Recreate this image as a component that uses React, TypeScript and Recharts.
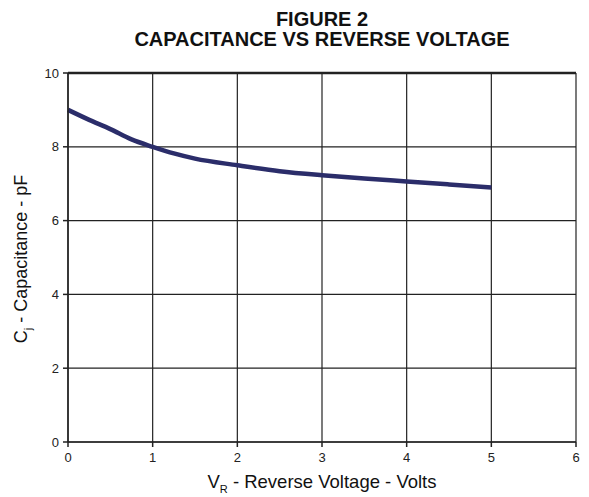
import { LineChart, Line, XAxis, YAxis, CartesianGrid, ReferenceLine, Customized } from 'recharts'

const voltage = [0, 0.25, 0.5, 0.75, 1, 1.25, 1.5, 2, 2.5, 3, 3.5, 4, 4.5, 5]
const capacitance = [9.0, 8.73, 8.48, 8.2, 8.0, 7.82, 7.68, 7.5, 7.34, 7.23, 7.14, 7.06, 6.98, 6.9]
const xTicks = [0, 1, 2, 3, 4, 5, 6]
const yTicks = [0, 2, 4, 6, 8, 10]

const data = voltage.map((v, i) => ({ v, c: capacitance[i] }))

const FONT = '"Liberation Sans", Arial, Helvetica, sans-serif'

export default function App() {
  const Labels = () => (
    <g fontFamily={FONT} fill='#111'>
      <text x={314} y={18} textAnchor='middle' fontSize={20} fontWeight='bold'>
        FIGURE 2
      </text>
      <text x={314} y={38} textAnchor='middle' fontSize={20} fontWeight='bold'>
        CAPACITANCE VS REVERSE VOLTAGE
      </text>
      <text x={314} y={480} textAnchor='middle' fontSize={18.5}>
        V<tspan fontSize={11} dy={5}>R</tspan>
        <tspan dy={-5}> - Reverse Voltage - Volts</tspan>
      </text>
      <text
        transform='translate(19,251) rotate(-90)'
        textAnchor='middle'
        fontSize={18}
      >
        C<tspan fontSize={11} dy={5}>j</tspan>
        <tspan dy={-5}> - Capacitance - pF</tspan>
      </text>
    </g>
  )

  return (
    <LineChart
      width={573}
      height={489}
      data={data}
      margin={{ top: 65, right: 5, bottom: 0, left: 0 }}
    >
      <CartesianGrid stroke='#222' strokeWidth={1.2} vertical horizontal />
      <XAxis
        dataKey='v'
        type='number'
        domain={[0, 6]}
        ticks={xTicks}
        height={55}
        tickSize={5}
        stroke='#222'
        strokeWidth={1.5}
        tick={{ fill: '#222', fontSize: 13, fontFamily: FONT, dy: 4 }}
      />
      <YAxis
        type='number'
        domain={[0, 10]}
        ticks={yTicks}
        width={60}
        tickSize={5}
        stroke='#222'
        strokeWidth={1.5}
        tick={{ fill: '#222', fontSize: 13, fontFamily: FONT, dx: -2 }}
      />
      <ReferenceLine y={10} stroke='#222' strokeWidth={2.5} />
      <Line
        dataKey='c'
        type='monotone'
        stroke='#2b2d6a'
        strokeWidth={4.5}
        dot={false}
        isAnimationActive={false}
      />
      <Customized component={Labels} />
    </LineChart>
  )
}
